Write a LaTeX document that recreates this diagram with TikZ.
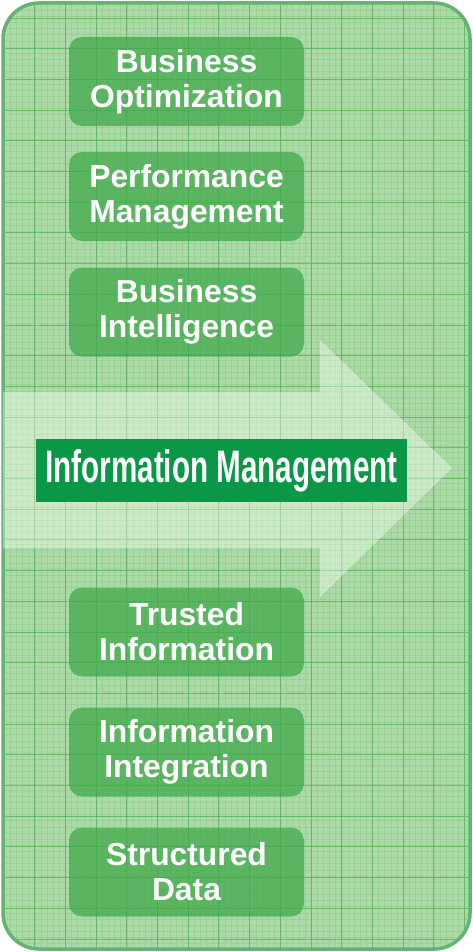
\documentclass[tikz,border=0pt]{standalone}
\usepackage{fontspec}
\setmainfont{Liberation Sans}
\usetikzlibrary{positioning}

\definecolor{paper}{RGB}{172,218,166}
\definecolor{gridline}{RGB}{84,178,88}
\definecolor{rim}{RGB}{100,178,116}
\definecolor{layer}{RGB}{62,168,72}
\definecolor{banner}{RGB}{10,151,71}

\tikzset{
  layerbox/.style={rounded corners=13, fill=layer, fill opacity=0.72, text opacity=1,
    text=white, align=center, inner sep=0pt,
    minimum width=235, minimum height=89,
    font=\fontsize{31.8}{35}\selectfont\bfseries},
  bannerbox/.style={fill=banner, text=white, inner sep=0pt,
    minimum width=371, minimum height=63},
}

\begin{document}
\begin{tikzpicture}[x=1pt,y=-1pt]
\useasboundingbox (0,0) rectangle (473,952);
\fill[white] (0,0) rectangle (473,952);

% panel with graph paper
\fill[paper, rounded corners=36] (3,3) rectangle (470,949);
\begin{scope}
\clip[rounded corners=36] (3,3) rectangle (470,949);
\foreach \i in {0,...,77}
  \draw[gridline, opacity=0.18, line width=0.4] ({4+6.14*\i},0) -- ({4+6.14*\i},952);
\foreach \j in {0,...,155}
  \draw[gridline, opacity=0.18, line width=0.4] (0,{4+6.14*\j}) -- (473,{4+6.14*\j});
\foreach \i in {0,...,15}
  \draw[gridline, opacity=0.75, line width=0.9] ({4+30.7*\i},0) -- ({4+30.7*\i},952);
\foreach \j in {0,...,31}
  \draw[gridline, opacity=0.75, line width=0.9] (0,{18+30.7*\j}) -- (473,{18+30.7*\j});
\end{scope}
\draw[rim, line width=3.5, rounded corners=36] (3,3) rectangle (470,949);

% big arrow
\fill[white, opacity=0.38] (3,392) -- (320,392) -- (320,340) -- (452,468)
  -- (320,597) -- (320,548) -- (3,548) -- cycle;

% layers
\node[layerbox] (bo) at (186.5,81.5) {Business\\Optimization};
\node[layerbox] (pm) at (186.5,196.5) {Performance\\Management};
\node[layerbox] (bi) at (186.5,312) {Business\\Intelligence};

\node[bannerbox] (im) at (221.5,470.5)
  {\resizebox{352pt}{33pt}{\bfseries Information Management}};

\node[layerbox] (ti) at (186.5,632) {Trusted\\Information};
\node[layerbox] (ii) at (186.5,752) {Information\\Integration};
\node[layerbox] (sd) at (186.5,872) {Structured\\Data};
\end{tikzpicture}
\end{document}
